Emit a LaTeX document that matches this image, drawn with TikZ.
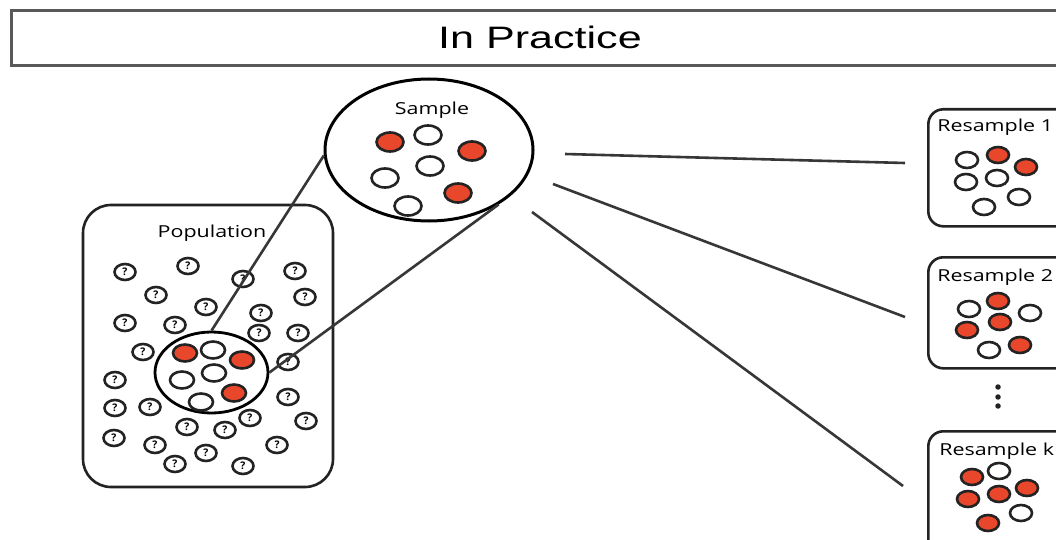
\documentclass[tikz,border=0pt]{standalone}
\usepackage{fontspec}
\newfontfamily\arialfont{Liberation Sans}
\newfontfamily\osansfont{Open Sans}
\usetikzlibrary{shapes.geometric}
\definecolor{sred}{RGB}{232,71,43}
\definecolor{dkline}{RGB}{35,35,35}
\definecolor{conn}{RGB}{55,55,55}
\tikzset{
  dotbase/.style={ellipse, draw=dkline, line width=2.6pt, inner sep=0pt},
  qdot/.style={dotbase, minimum width=21pt, minimum height=16pt,
    font=\osansfont\bfseries\fontsize{10.5}{10.5}\selectfont},
  rbig/.style={dotbase, fill=sred, minimum width=27pt, minimum height=19pt},
  wbig/.style={dotbase, fill=white, minimum width=27pt, minimum height=19pt},
  rmid/.style={dotbase, fill=sred, minimum width=24pt, minimum height=17pt},
  wmid/.style={dotbase, fill=white, minimum width=24pt, minimum height=17pt},
  rsm/.style={dotbase, fill=sred, minimum width=22pt, minimum height=16pt},
  wsm/.style={dotbase, fill=white, minimum width=22pt, minimum height=16pt},
  lbl/.style={font=\osansfont\fontsize{16.5}{16.5}\selectfont, text=black, xscale=1.3, inner sep=0pt},
  rsbox/.style={draw=dkline, line width=2.6pt, rounded corners=15pt},
  connline/.style={draw=conn, line width=2.6pt},
  vdot/.style={circle, fill=dkline, minimum size=5.5pt, inner sep=0pt}
}
\begin{document}
\begin{tikzpicture}[x=1pt,y=-1pt]
\clip (0,0) rectangle (1056,540);
\fill[white] (0,0) rectangle (1056,540);

% title
\node[draw=gray!70!black, line width=3pt, minimum width=1062pt, minimum height=55pt, anchor=north west, inner sep=0pt] (titlebox) at (10,9) {};
\node[font=\arialfont\fontsize{31}{31}\selectfont, xscale=1.39, inner sep=0pt] (title) at (540,37) {In Practice};

% population
\node[draw=dkline, line width=2.6pt, rounded corners=28pt, minimum width=250pt, minimum height=282pt, inner sep=0pt] (pop) at (208,346) {};
\node[lbl] (poplbl) at (212,233) {Population};

\foreach \px/\py [count=\i] in {125/272,188/266,243/279,295/271,156/295,305/297,206/307,261/313,125/323,175/325,259/333,298/333,143/352,288/362,115/380,288/397,115/408,150/407,250/418,306/421,187/427,225/430,114/438,155/445,206/453,277/445,175/464,243/466}
  \node[qdot] (q\i) at (\px,\py) {?};

% inner sample ellipse in population
\node[ellipse, draw=black, line width=2.8pt, minimum width=113pt, minimum height=81pt, inner sep=0pt] (popsamp) at (211.5,372.5) {};
\node[rmid] (pa) at (185,353) {};
\node[wmid] (pb) at (213,350) {};
\node[rmid] (pc) at (242,360) {};
\node[wmid] (pd) at (182,380) {};
\node[wmid] (pe) at (214,373) {};
\node[rmid] (pf) at (234,393) {};
\node[wmid] (pg) at (201,402) {};

% sample ellipse
\node[ellipse, draw=black, line width=3pt, minimum width=208pt, minimum height=142pt, inner sep=0pt] (samp) at (429,150) {};
\node[lbl] (samplbl) at (432,110) {Sample};
\node[rbig] (sa) at (390,142) {};
\node[wbig] (sb) at (428,135) {};
\node[rbig] (sc) at (472,151) {};
\node[wbig] (sd) at (430,166) {};
\node[wbig] (se) at (385,178) {};
\node[rbig] (sf) at (458,193) {};
\node[wbig] (sg) at (408,206) {};

% zoom lines
\draw[connline] (popsamp.north) -- (samp.183);
\draw[connline] (popsamp.east) -- (samp.-38.5);

% resample boxes
\node[rsbox, minimum width=150pt, minimum height=117pt, anchor=north west, inner sep=0pt] (r1) at (927,108) {};
\node[rsbox, minimum width=150pt, minimum height=111pt, anchor=north west, inner sep=0pt] (r2) at (927,256) {};
\node[rsbox, minimum width=150pt, minimum height=130pt, anchor=north west, inner sep=0pt] (rk) at (927,430) {};

\node[lbl, anchor=west] (r1lbl) at (937,127) {Resample 1};
\node[lbl, anchor=west] (r2lbl) at (937,277) {Resample 2};
\node[lbl, anchor=west] (rklbl) at (939,451) {Resample k};

\node[wsm] (a1) at (967,160) {};
\node[rsm] (a2) at (998,155) {};
\node[rsm] (a3) at (1026,167) {};
\node[wsm] (a4) at (966,182) {};
\node[wsm] (a5) at (997,178) {};
\node[wsm] (a6) at (1019,197) {};
\node[wsm] (a7) at (984,207) {};

\node[wsm] (b1) at (969,309) {};
\node[rsm] (b2) at (998,301) {};
\node[wsm] (b3) at (1030,313) {};
\node[rsm] (b4) at (967,330) {};
\node[rsm] (b5) at (1000,322) {};
\node[wsm] (b6) at (989,350) {};
\node[rsm] (b7) at (1020,345) {};

\node[rsm] (k1) at (972,477) {};
\node[wsm] (k2) at (999,471) {};
\node[rsm] (k3) at (1027,488) {};
\node[rsm] (k4) at (968,499) {};
\node[rsm] (k5) at (999,494) {};
\node[wsm] (k6) at (1021,513) {};
\node[rsm] (k7) at (988,523) {};

\node[vdot] (v1) at (998,387) {};
\node[vdot] (v2) at (998,397) {};
\node[vdot] (v3) at (998,406) {};

% lines to resamples
\coordinate (s1) at (565,154);
\coordinate (s2) at (553,184);
\coordinate (s3) at (532,212);
\coordinate (e1) at (905,163);
\coordinate (e2) at (905,317);
\coordinate (e3) at (903,486);
\draw[connline] (s1) -- (e1);
\draw[connline] (s2) -- (e2);
\draw[connline] (s3) -- (e3);
\end{tikzpicture}
\end{document}
